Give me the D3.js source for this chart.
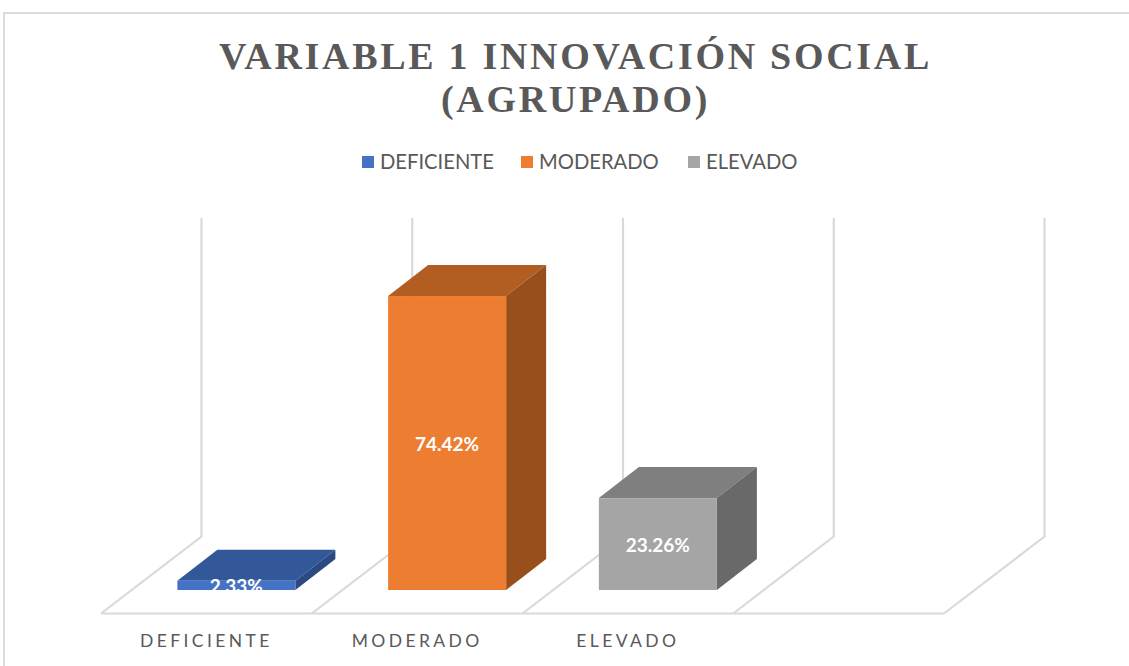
<!DOCTYPE html>
<html><head><meta charset="utf-8">
<script src="https://cdn.jsdelivr.net/npm/d3@7/dist/d3.min.js"></script>
<style>html,body{margin:0;padding:0;background:#fff}svg{display:block}</style></head>
<body><svg id="c" width="1129" height="666"></svg>
<script>
const titleLines = ["VARIABLE 1 INNOVACIÓN SOCIAL", "(AGRUPADO)"];
const categories = ["DEFICIENTE", "MODERADO", "ELEVADO"];
const values = [2.33, 74.42, 23.26];
const valueLabels = ["2.33%", "74.42%", "23.26%"];
const frontColors = ["#4472C4", "#ED7D31", "#A5A5A5"];
const topColors = ["#335899", "#B25D22", "#7F7F7F"];
const sideColors = ["#2B4A82", "#984F1B", "#696969"];

const svg = d3.select("#c");
const sans = "Lato, 'Open Sans', sans-serif";
const grey = "#595959", wall = "#D9D9D9";

// frame of the picture
svg.append("path").attr("d", "M4,666V13H1129").attr("fill", "none").attr("stroke", "#D0D0D0").attr("stroke-width", 1.5);

// title
svg.append("g").selectAll("text").data(titleLines).join("text")
  .attr("x", 575.5).attr("y", (d, i) => 69 + i * 43)
  .attr("text-anchor", "middle")
  .attr("font-family", "'Liberation Serif', serif").attr("font-weight", 700)
  .attr("font-size", 38).attr("letter-spacing", 2.7).attr("fill", grey)
  .text(d => d);

// legend
const legendX = d3.scaleOrdinal().domain(categories).range([362, 521, 688]);
const lg = svg.append("g").selectAll("g").data(categories).join("g")
  .attr("transform", d => `translate(${legendX(d)},156)`);
lg.append("rect").attr("width", 12).attr("height", 12).attr("fill", (d, i) => frontColors[i]);
lg.append("text").attr("x", 18).attr("y", 13).attr("font-family", sans)
  .attr("font-size", 20.2).attr("fill", grey).text(d => d);

// 3D layout
const dx = 40, dy = 31;
const floorFront = 613.5, floorBack = 536.5, wallTop = 218, barBase = 590;
const slots = [...categories, " "];
const x = d3.scaleBand().domain(slots).range([131, 974]);
const y = d3.scaleLinear().domain([0, 100]).range([barBase, barBase - 395]);
const barW = x.bandwidth() * 0.56;
const shiftFront = 30, shiftBack = 70;

// walls and floor
const edges = [...slots.map(s => x(s)), 974];
const grid = svg.append("g").attr("fill", "none").attr("stroke", wall).attr("stroke-width", 2.2);
grid.selectAll("path").data(edges).join("path")
  .attr("d", e => `M${e + shiftBack + 0.5},${wallTop}V${floorBack}L${e - shiftFront},${floorFront}`);
grid.append("line").attr("x1", edges[0] - shiftFront).attr("x2", edges[4] - shiftFront)
  .attr("y1", floorFront).attr("y2", floorFront);

// bars
const bars = svg.append("g").selectAll("g").data(categories).join("g");
const bx = d => x(d) + (x.bandwidth() - barW) / 2;
const defs = svg.append("defs");
categories.forEach((c, i) => {
  const x0 = bx(c), x1 = x0 + barW, yT = y(values[i]), yB = y(0);
  const g = bars.filter(d => d === c);
  g.append("path").attr("fill", topColors[i])
    .attr("d", `M${x0},${yT}L${x0 + dx},${yT - dy}H${x1 + dx}L${x1},${yT}Z`);
  g.append("path").attr("fill", sideColors[i])
    .attr("d", `M${x1},${yT}L${x1 + dx},${yT - dy}V${yB - dy}L${x1},${yB}Z`);
  g.append("rect").attr("x", x0).attr("y", yT).attr("width", barW).attr("height", yB - yT).attr("fill", frontColors[i]);
  defs.append("clipPath").attr("id", "clip" + i).append("rect")
    .attr("x", x0).attr("y", yT - 6).attr("width", barW).attr("height", yB - yT + 6);
  g.append("text").attr("clip-path", `url(#clip${i})`)
    .attr("x", (x0 + x1) / 2).attr("y", (yT + yB) / 2 + 8)
    .attr("text-anchor", "middle").attr("font-family", sans).attr("font-weight", 700)
    .attr("font-size", 19).attr("fill", "#fff").text(valueLabels[i]);
});

// category axis
const xAxis = d3.scaleBand().domain(slots).range([101, 944]);
const ax = svg.append("g").attr("transform", "translate(0,631.5)")
  .call(d3.axisBottom(xAxis).tickSize(0).tickPadding(3).tickValues(categories));
ax.select(".domain").remove();
ax.selectAll("text").attr("font-family", sans).attr("font-size", 17.5)
  .attr("letter-spacing", 3.4).attr("fill", grey);
</script></body></html>
